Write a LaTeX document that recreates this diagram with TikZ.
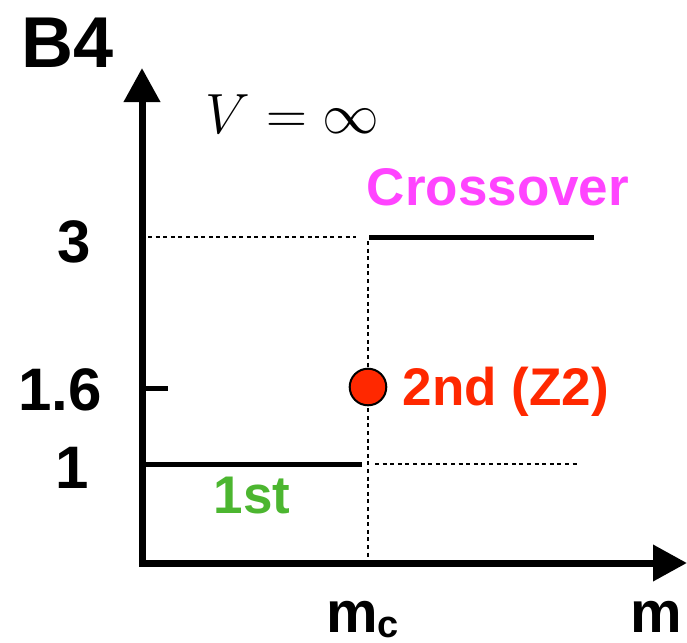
\documentclass[tikz,border=0pt]{standalone}
\usepackage{fontspec}
\usepackage{tikz}
\usetikzlibrary{arrows.meta, positioning}
\newfontfamily\labelfont{Liberation Sans}
\definecolor{crossmagenta}{RGB}{255,68,255}
\definecolor{zredcol}{RGB}{255,40,0}
\definecolor{firstgreen}{RGB}{76,182,48}
\tikzset{
    axis line/.style={line width=3.5pt, line join=miter,
        {Triangle[length=17pt, width=17.5pt]}-{Triangle[length=17pt, width=17.5pt]}},
    phase line/.style={line width=2.5pt},
    guide line/.style={line width=1pt, dash pattern=on 2pt off 1.8pt},
    tick label/.style={anchor=base, inner sep=0pt, font=\labelfont\bfseries\fontsize{30}{32}\selectfont},
    region label/.style={anchor=base, inner sep=0pt, font=\labelfont\bfseries\fontsize{26.5}{28}\selectfont},
    crit point/.style={circle, draw, line width=1pt, fill=zredcol, minimum size=18.3pt, inner sep=0pt},
}
\begin{document}
\begin{tikzpicture}[x=0.5pt, y=-0.5pt]
    \useasboundingbox (0,0) rectangle (687,643);
    % axes
    \coordinate (O) at (142,563);
    \coordinate (ytip) at (142,68);
    \coordinate (xtip) at (687,563);
    \draw[axis line] (ytip) -- (O) -- (xtip);
    \node[anchor=base, inner sep=0pt, font=\labelfont\bfseries\fontsize{36}{38}\selectfont] (title) at (67.5,67) {B4};
    \node[anchor=base, inner sep=0pt, scale=1.14, font=\fontsize{24.88}{30}\selectfont] (vol) at (292.5,133) {$V=\infty$};

    % phase boundaries
    \coordinate (a3) at (148,237);
    \coordinate (b3) at (356,237);
    \coordinate (c3) at (369,237);
    \coordinate (d3) at (594,237);
    \coordinate (a1) at (142,464);
    \coordinate (b1) at (362,464);
    \coordinate (c1) at (375,464);
    \coordinate (d1) at (578,464);
    \coordinate (mtop) at (368,241);
    \coordinate (mbot) at (368,557);
    \draw[guide line] (a3) -- (b3);
    \draw[guide line] (mtop) -- (mbot);
    \draw[guide line] (c1) -- (d1);
    \draw[phase line] (c3) -- (d3);
    \draw[phase line] (a1) -- (b1);
    \draw[phase line] (142,388) -- (168,388);

    \node[crit point] (zpt) at (368,387) {};

    % labels
    \node[tick label] (t3) at (74.5,262) {3};
    \node[tick label] (t16) at (60,410) {1.6};
    \node[tick label] (t1) at (72.5,488) {1};
    \node[region label, text=crossmagenta] (cross) at (498,205) {Crossover};
    \node[region label, text=zredcol] (second) at (506,405) {2nd (Z2)};
    \node[region label, text=firstgreen] (first) at (252,513) {1st};
    \node[anchor=base west, inner sep=0pt, font=\labelfont\bfseries\fontsize{29}{30}\selectfont] (mc) at (326,632) {m\raisebox{-2.5pt}{\fontsize{19}{20}\selectfont c}};
    \node[anchor=base, inner sep=0pt, font=\labelfont\bfseries\fontsize{29}{30}\selectfont] (mlab) at (656,632) {m};
\end{tikzpicture}
\end{document}
